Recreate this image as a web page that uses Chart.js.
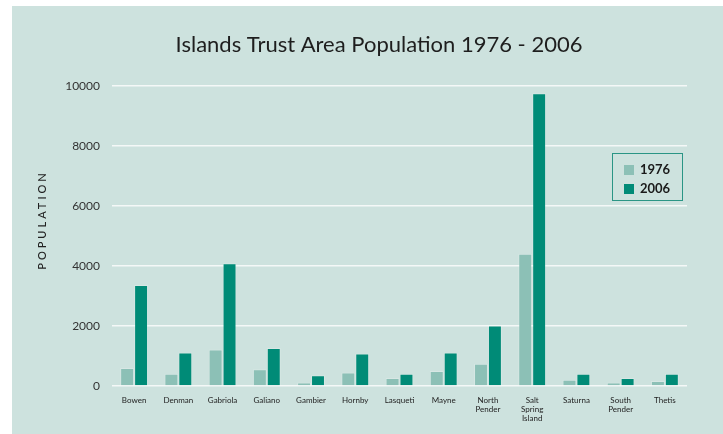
<!DOCTYPE html>
<html>
<head>
<meta charset="utf-8">
<script src="https://cdn.jsdelivr.net/npm/chart.js@4"></script>
<style>
  body { margin: 0; background: #fff; }
  #wrap { position: absolute; left: 12px; top: 6px; width: 711px; height: 428px; background: #cde2de; }
  #legend { position: absolute; left: 600px; top: 147px; width: 69px; height: 46px; border: 1.5px solid #2a9585;
            font-family: Lato, sans-serif; font-weight: bold; font-size: 13px; color: #1a1a1a; }
  #legend div { position: absolute; left: 11px; height: 12px; line-height: 12px; }
  #legend span { display: inline-block; width: 10px; height: 10px; margin-right: 6px; vertical-align: -1px; }
</style>
</head>
<body>
<div id="wrap">
  <canvas id="popChart" width="711" height="428"></canvas>
  <div id="legend"></div>
</div>
<script>
// Islands Trust Area Population 1976 - 2006
const islands = ['Bowen', 'Denman', 'Gabriola', 'Galiano', 'Gambier', 'Hornby', 'Lasqueti', 'Mayne',
    ['North', 'Pender'], ['Salt', 'Spring', 'Island'], 'Saturna', ['South', 'Pender'], 'Thetis'];
const pop1976 = [600, 410, 1220, 560, 120, 450, 270, 500, 740, 4410, 210, 120, 170];
const pop2006 = [3370, 1120, 4090, 1270, 360, 1080, 410, 1120, 2020, 9760, 410, 270, 410];
const yTicks = [0, 2000, 4000, 6000, 8000, 10000];
const chartTitle = 'Islands Trust Area Population 1976 - 2006';

// title and rotated axis title, drawn by hand so they sit where the original has them
const texts = {
    id: 'texts',
    afterDraw(chart) {
        const c = chart.ctx;
        c.save();
        c.font = '22px Lato, sans-serif';
        c.fillStyle = '#1e1e1e';
        c.textAlign = 'center';
        c.textBaseline = 'middle';
        c.fillText(chartTitle, 367, 39);
        c.translate(30, 214);
        c.rotate(-Math.PI / 2);
        c.font = '500 11px Lato, sans-serif';
        c.letterSpacing = '3px';
        c.fillStyle = '#222';
        c.fillText('POPULATION', 0, 0);
        c.restore();
    }
};

const ctx = document.getElementById('popChart').getContext('2d');
const popChart = new Chart(ctx, {
    type: 'bar',
    data: {
        labels: islands,
        datasets: [{
            label: '1976',
            data: pop1976,
            backgroundColor: '#8cc0b6',
            borderColor: 'rgba(255, 255, 255, 0.2)',
            borderWidth: 1,
            categoryPercentage: 0.63,
            barPercentage: 1
        }, {
            label: '2006',
            data: pop2006,
            backgroundColor: '#008b77',
            borderColor: 'rgba(255, 255, 255, 0.2)',
            borderWidth: 1,
            categoryPercentage: 0.63,
            barPercentage: 1
        }]
    },
    options: {
        responsive: false,
        animation: false,
        layout: { padding: { left: 0, right: 36, top: 80, bottom: 0 } },
        scales: {
            y: {
                min: 0,
                max: 10000,
                afterFit(s) { s.width = 100; },
                afterBuildTicks(s) { s.ticks = yTicks.map(v => ({ value: v })); },
                ticks: {
                    padding: 12,
                    color: '#333',
                    font: { family: 'Lato, sans-serif', size: 12 },
                    callback: v => String(v)
                },
                grid: { color: '#f4f8f7', lineWidth: 1.5, drawTicks: false },
                border: { display: false }
            },
            x: {
                afterFit(s) { s.height = 48; },
                ticks: {
                    maxRotation: 0,
                    autoSkip: false,
                    padding: 2,
                    color: '#222',
                    font: { family: 'Lato, sans-serif', size: 8, lineHeight: 1.1 }
                },
                grid: { display: false },
                border: { display: false }
            }
        },
        plugins: {
            legend: { display: false },
            tooltip: { enabled: false },
            title: { display: false }
        }
    },
    plugins: [texts]
});

// legend box
const lg = document.getElementById('legend');
popChart.data.datasets.forEach((ds, i) => {
    const row = document.createElement('div');
    row.style.top = (9 + i * 19) + 'px';
    row.innerHTML = '<span style="background:' + ds.backgroundColor + '"></span>' + ds.label;
    lg.appendChild(row);
});
</script>
</body>
</html>
